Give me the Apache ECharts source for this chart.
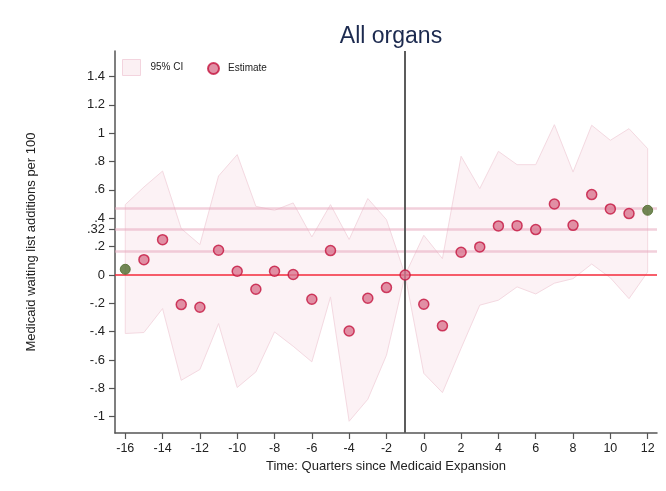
<!DOCTYPE html>
<html>
<head>
<meta charset="utf-8">
<script src="https://cdn.jsdelivr.net/npm/echarts@6/dist/echarts.min.js"></script>
<style>
html,body{margin:0;padding:0;background:#fff;}
#chart{width:666px;height:491px;}
</style>
</head>
<body>
<div id="chart"></div>
<script>
// ---- data ----
const quarters = [-16,-15,-14,-13,-12,-11,-10,-9,-8,-7,-6,-5,-4,-3,-2,-1,0,1,2,3,4,5,6,7,8,9,10,11,12];
const estimate = [0.040,0.108,0.249,-0.209,-0.228,0.174,0.026,-0.101,0.026,0.003,-0.171,0.172,-0.395,-0.164,-0.089,0,-0.207,-0.359,0.160,0.198,0.346,0.348,0.320,0.501,0.350,0.567,0.466,0.433,0.456];
const ciUpper  = [0.496,0.620,0.733,0.327,0.214,0.698,0.849,0.484,0.456,0.508,0.268,0.496,0.250,0.539,0.390,0,0.280,0.115,0.837,0.609,0.872,0.778,0.778,1.060,0.726,1.056,0.950,1.032,0.891];
const ciLower  = [-0.413,-0.406,-0.237,-0.743,-0.667,-0.343,-0.794,-0.684,-0.402,-0.503,-0.613,-0.155,-1.032,-0.877,-0.566,0,-0.694,-0.830,-0.517,-0.213,-0.178,-0.084,-0.134,-0.058,-0.026,0.077,-0.020,-0.167,0.021];
const endpointQuarters = [-16, 12];
const pinkRefLines = [0.473, 0.320, 0.169];
const zeroLine = [0];
const expansionLine = [-1];
const xTickValues = [-16,-14,-12,-10,-8,-6,-4,-2,0,2,4,6,8,10,12];
const yTickValues = [-1,-0.8,-0.6,-0.4,-0.2,0,0.2,0.4,0.6,0.8,1,1.2,1.4,0.32];

const FONT = '"Liberation Sans", Arial, Helvetica, sans-serif';

function stataFmt(v){
  let s = String(Math.round(v*100)/100);
  s = s.replace(/^0\./, '.').replace(/^-0\./, '-.');
  return s;
}

const chart = echarts.init(document.getElementById('chart'), null, {renderer:'canvas'});

const scatterData = quarters.map((q,i) => {
  const item = {value:[q, estimate[i]]};
  if (endpointQuarters.indexOf(q) >= 0) {
    item.itemStyle = {color:'#4f6a2c', borderColor:'#4f6a2c', borderWidth:1};
  }
  return item;
});

const option = {
  animation:false,
  backgroundColor:'#ffffff',
  title:{
    text:'All organs', left:386, top:20, textAlign:'center',
    textStyle:{fontFamily:FONT, fontSize:23, fontWeight:'normal', color:'#1c2a4f'}
  },
  legend:[
    {
      data:[{name:'95% CI', icon:'rect', itemStyle:{color:'#fbf0f3', borderColor:'#f3d4de', borderWidth:1}}],
      left:122, top:59, padding:0, itemWidth:18, itemHeight:16, selectedMode:false,
      textStyle:{fontFamily:FONT, fontSize:10, color:'#222', padding:[0,0,0,5]}
    },
    {
      data:[{name:'Estimate', icon:'circle'}],
      left:207, top:62, padding:0, itemWidth:11, itemHeight:11, selectedMode:false,
      textStyle:{fontFamily:FONT, fontSize:10, color:'#222', padding:[0,0,0,4]}
    }
  ],
  grid:{left:115, right:9, top:51, bottom:58, containLabel:false},
  xAxis:{
    type:'value', min:-16.55, max:12.5,
    name:'Time: Quarters since Medicaid Expansion', nameLocation:'middle', nameGap:24,
    nameTextStyle:{fontFamily:FONT, fontSize:13, color:'#222'},
    axisLine:{show:true, onZero:false, lineStyle:{color:'#555', width:1.5}},
    axisTick:{show:true, length:6, lineStyle:{color:'#555', width:1.2}, customValues:xTickValues},
    axisLabel:{fontFamily:FONT, fontSize:12.5, color:'#222', margin:9, customValues:xTickValues, formatter:v=>String(v)},
    splitLine:{show:false}
  },
  yAxis:{
    type:'value', min:-1.115, max:1.58,
    name:'Medicaid waiting list additions per 100', nameLocation:'middle', nameGap:77,
    nameTextStyle:{fontFamily:FONT, fontSize:13, color:'#222'},
    axisLine:{show:true, onZero:false, lineStyle:{color:'#555', width:1.5}},
    axisTick:{show:true, length:6, lineStyle:{color:'#555', width:1.2}, customValues:yTickValues},
    axisLabel:{fontFamily:FONT, fontSize:13, color:'#222', margin:10, customValues:yTickValues, formatter:stataFmt},
    splitLine:{show:false}
  },
  series:[
    {
      type:'custom', name:'95% CI', z:1,
      data: quarters.map((q,i)=>[q, ciLower[i], ciUpper[i]]),
      encode:{x:0, y:[1,2]},
      itemStyle:{color:'#fbf0f3', borderColor:'#f3d4de'},
      renderItem:function(params, api){
        if (params.dataIndex !== 0) return null;
        const pts = [];
        for (let i=0;i<quarters.length;i++) pts.push(api.coord([quarters[i], ciUpper[i]]));
        for (let i=quarters.length-1;i>=0;i--) pts.push(api.coord([quarters[i], ciLower[i]]));
        return {type:'polygon', shape:{points:pts}, style:{fill:'rgba(246,220,229,0.38)', stroke:'#f4d9e1', lineWidth:1}};
      }
    },
    {
      type:'scatter', name:'Estimate', z:5,
      symbol:'circle', symbolSize:10,
      itemStyle:{color:'#d97590', borderColor:'#c4143f', borderWidth:1.5},
      data:scatterData,
      markLine:{
        silent:true, symbol:'none', animation:false,
        label:{show:false},
        data:[
          ...pinkRefLines.map(v=>({yAxis:v, lineStyle:{color:'rgba(232,170,190,0.55)', width:2.5, type:'solid'}})),
          ...zeroLine.map(v=>({yAxis:v, lineStyle:{color:'#f42a3a', width:1.5, type:'solid'}})),
          ...expansionLine.map(v=>({xAxis:v, lineStyle:{color:'#5c5c5c', width:2, type:'solid'}}))
        ]
      }
    }
  ]
};
chart.setOption(option);
</script>
</body>
</html>
